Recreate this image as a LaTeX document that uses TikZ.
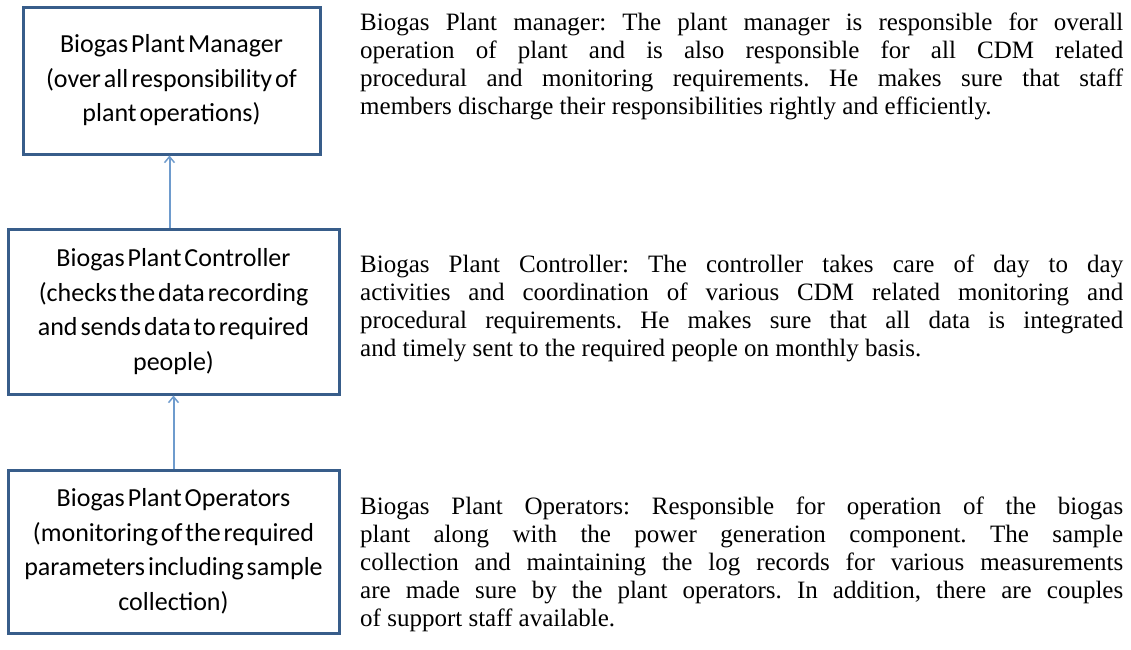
\documentclass[tikz,border=0pt]{standalone}
\usepackage{fontspec}
\setmainfont{Liberation Serif}
\newfontfamily\boxfont[WordSpace=0.5]{Carlito}
\usetikzlibrary{arrows.meta,calc}
\definecolor{boxblue}{RGB}{56,93,138}
\definecolor{arrblue}{RGB}{110,155,205}
\tikzset{
  orgbox/.style={draw=boxblue, line width=3pt, fill=white, inner sep=0pt,
    align=center, font=\boxfont\fontsize{26}{34.5}\selectfont},
  arr/.style={draw=arrblue, line width=2pt, -{Straight Barb[length=6pt,width=10pt,line width=1.5pt]}},
  desc/.style={anchor=base west, inner sep=0pt, text width=763pt, align=justify,
    font=\fontsize{25}{28}\selectfont\frenchspacing}
}
\begin{document}
\begin{tikzpicture}[x=1pt,y=-1pt]
\useasboundingbox (0,0) rectangle (1131,649);
\node[orgbox, minimum width=297pt, minimum height=147pt] (b1) at (171.5,80.5)
  {Biogas Plant Manager\\(over all responsibility of\\plant operations)};
\node[orgbox, minimum width=331pt, minimum height=165pt] (b2) at (173.5,311.5)
  {Biogas Plant Controller\\(checks the data recording\\and sends data to required\\people)};
\node[orgbox, minimum width=331pt, minimum height=163pt] (b3) at (173.5,551.5)
  {Biogas Plant Operators\\(monitoring of the required\\parameters including sample\\collection)};
\coordinate (c1) at (169.5,0);
\coordinate (c2) at (173.5,0);
\draw[arr] (b2.north -| c1) -- (b1.south -| c1);
\draw[arr] (b3.north -| c2) -- (b2.south -| c2);
\node[desc] (t1) at (360,30) {\hyphenpenalty=10000
  Biogas Plant manager: The plant manager is responsible for overall\linebreak
  operation of plant and is also responsible for all CDM related\linebreak
  procedural and monitoring requirements. He makes sure that staff\linebreak
  members discharge their responsibilities rightly and efficiently.};
\node[desc] (t2) at (360,272) {\hyphenpenalty=10000
  Biogas Plant Controller: The controller takes care of day to day\linebreak
  activities and coordination of various CDM related monitoring and\linebreak
  procedural requirements. He makes sure that all data is integrated\linebreak
  and timely sent to the required people on monthly basis.};
\node[desc] (t3) at (360,514) {\hyphenpenalty=10000
  Biogas Plant Operators: Responsible for operation of the biogas\linebreak
  plant along with the power generation component. The sample\linebreak
  collection and maintaining the log records for various measurements\linebreak
  are made sure by the plant operators. In addition, there are couples\linebreak
  of support staff available.};
\end{tikzpicture}
\end{document}
